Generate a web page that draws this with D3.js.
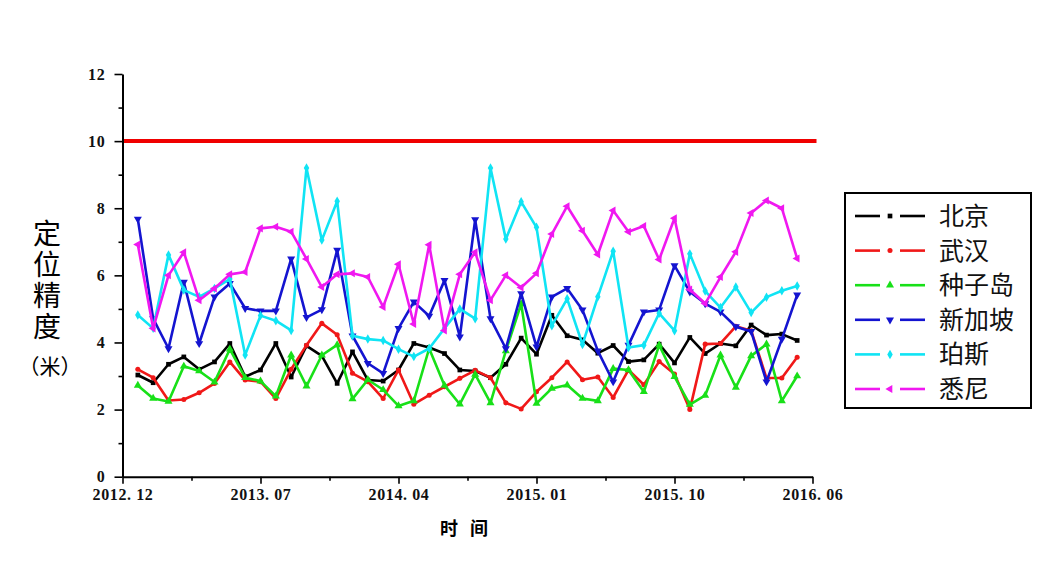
<!DOCTYPE html>
<html>
<head>
<meta charset="utf-8">
<script src="https://cdn.jsdelivr.net/npm/d3@7"></script>
<style>
  html, body { margin: 0; padding: 0; background: #fff; }
  svg { display: block; }
</style>
</head>
<body>
<svg id="chart" width="1040" height="569"></svg>
<script>
// Monthly positioning accuracy (metres) for six stations
const stations = ["北京", "武汉", "种子岛", "新加坡", "珀斯", "悉尼"];
const xTickLabels = ["2012. 12", "2013. 07", "2014. 04", "2015. 01", "2015. 10", "2016. 06"];
const yTicks = [0, 2, 4, 6, 8, 10, 12];
const threshold = 10;

const beijing = [3.03, 2.8, 3.35, 3.57, 3.2, 3.42, 3.97, 2.98, 3.18, 3.97, 2.97, 3.9, 3.6, 2.78, 3.72,
  2.88, 2.85, 3.18, 3.97, 3.85, 3.67, 3.18, 3.15, 2.95, 3.35, 4.13, 3.65, 4.81, 4.2, 4.08,
  3.68, 3.91, 3.43, 3.48, 3.95, 3.39, 4.15, 3.67, 3.97, 3.9, 4.52, 4.22, 4.25, 4.06];
const wuhan = [3.2, 2.95, 2.27, 2.3, 2.5, 2.78, 3.42, 2.88, 2.83, 2.33, 3.2, 3.92, 4.57, 4.23, 3.08,
  2.83, 2.33, 3.18, 2.16, 2.43, 2.68, 2.93, 3.17, 2.95, 2.2, 2.02, 2.53, 2.95, 3.42, 2.89,
  2.97, 2.36, 3.18, 2.74, 3.43, 3.06, 2.0, 3.95, 3.97, 4.48, 4.35, 2.94, 2.94, 3.56];
const tanegashima = [2.72, 2.33, 2.24, 3.29, 3.15, 2.82, 3.8, 2.95, 2.85, 2.4, 3.62, 2.7, 3.62, 3.93, 2.32,
  2.89, 2.59, 2.11, 2.26, 3.82, 2.72, 2.16, 3.05, 2.2, 3.75, 5.15, 2.18, 2.63, 2.73, 2.33,
  2.26, 3.22, 3.18, 2.53, 3.92, 2.98, 2.15, 2.42, 3.62, 2.66, 3.6, 3.95, 2.26, 3.0];
const singapore = [7.68, 4.71, 3.82, 5.8, 3.97, 5.36, 5.76, 5.02, 4.94, 4.94, 6.49, 4.75, 4.98, 6.75, 4.2,
  3.38, 3.08, 4.42, 5.21, 4.79, 5.85, 4.17, 7.66, 4.71, 3.82, 5.46, 3.87, 5.36, 5.61, 4.97,
  3.75, 2.83, 3.92, 4.91, 4.97, 6.29, 5.51, 5.16, 4.91, 4.47, 4.33, 2.83, 4.1, 5.42];
const perth = [4.82, 4.42, 6.61, 5.56, 5.36, 5.61, 5.89, 3.63, 4.8, 4.65, 4.36, 9.2, 7.05, 8.21, 4.2,
  4.1, 4.06, 3.8, 3.58, 3.82, 4.42, 5.0, 4.71, 9.2, 7.08, 8.19, 7.43, 4.5, 5.3, 3.94,
  5.36, 6.72, 3.85, 3.92, 4.87, 4.35, 6.64, 5.53, 5.04, 5.65, 4.89, 5.35, 5.54, 5.68];
const sydney = [6.92, 4.42, 6.0, 6.69, 5.26, 5.61, 6.03, 6.1, 7.4, 7.45, 7.3, 6.49, 5.65, 6.03, 6.06,
  5.95, 5.06, 6.33, 4.55, 6.91, 4.36, 6.03, 6.69, 5.26, 6.0, 5.64, 6.06, 7.23, 8.06, 7.33,
  6.62, 7.93, 7.3, 7.47, 6.47, 7.7, 5.58, 5.16, 5.95, 6.7, 7.86, 8.23, 8.0, 6.5];

const seriesValues = [beijing, wuhan, tanegashima, singapore, perth, sydney];
const colors = ["#000000", "#f01818", "#18e018", "#1414d0", "#10e4f4", "#f018f0"];
const markerKinds = ["square", "circle", "up", "down", "diamond", "left"];

const svg = d3.select("#chart");

const x = d3.scaleLinear().domain([0, 45]).range([122.5, 812.5]);
const y = d3.scaleLinear().domain([0, 12]).range([476.7, 74]);

const serif = "'Liberation Serif', 'DejaVu Serif', serif";
const cjk = "'Noto Sans CJK SC', sans-serif";

// Threshold line at 10 m
svg.append("line")
  .attr("x1", x(0)).attr("x2", x(45) + 4)
  .attr("y1", y(threshold)).attr("y2", y(threshold))
  .attr("stroke", "#f00000").attr("stroke-width", 4);

// Y axis: major ticks with labels, minor ticks between
const yAxisG = svg.append("g").attr("class", "yaxis").attr("transform", `translate(${x(0)},0)`)
  .call(d3.axisLeft(y).tickValues(yTicks).tickSize(8).tickSizeOuter(0).tickPadding(9).tickFormat(d3.format("d")));
svg.append("g").attr("transform", `translate(${x(0)},0)`)
  .call(d3.axisLeft(y).tickValues(d3.range(1, 12, 2)).tickSize(4).tickSizeOuter(0).tickFormat(""))
  .select(".domain").remove();

// X axis: labelled ticks every 9 steps, minor ticks halfway
const xMajor = d3.range(0, 46, 9);
const xAxisG = svg.append("g").attr("class", "xaxis").attr("transform", `translate(0,${y(0)})`)
  .call(d3.axisBottom(x).tickValues(xMajor).tickSize(7).tickSizeOuter(0).tickPadding(5)
    .tickFormat((d, i) => xTickLabels[i]));
svg.append("g").attr("transform", `translate(0,${y(0)})`)
  .call(d3.axisBottom(x).tickValues(xMajor.slice(0, -1).map(v => v + 4.5)).tickSize(4).tickSizeOuter(0).tickFormat(""))
  .select(".domain").remove();

svg.selectAll(".domain").attr("stroke", "#000").attr("stroke-width", 2);
svg.selectAll(".tick line").attr("stroke", "#000").attr("stroke-width", 1.6);
svg.selectAll(".tick text")
  .attr("fill", "#111")
  .style("font-family", serif)
  .style("font-weight", "bold")
  .style("font-size", "16px");
xAxisG.selectAll(".tick text").style("letter-spacing", "0.6px");
yAxisG.selectAll(".tick text").style("letter-spacing", "0.8px");

// Axis titles
svg.append("text")
  .attr("x", 466).attr("y", 535)
  .attr("text-anchor", "middle")
  .style("font-family", cjk).style("font-weight", "bold").style("font-size", "18px")
  .style("letter-spacing", "4px")
  .text("时 间");

// Vertical y-axis title, characters stacked top to bottom
svg.append("text")
  .attr("x", 47).attr("y", 219)
  .style("writing-mode", "vertical-rl")
  .style("text-orientation", "upright")
  .style("letter-spacing", "3px")
  .style("font-family", cjk).style("font-size", "28px")
  .text("定位精度");
svg.append("text")
  .attr("x", 50).attr("y", 374)
  .attr("text-anchor", "middle")
  .style("font-family", cjk).style("font-size", "21px")
  .text("（米）");

// Marker shapes
function markerPath(kind) {
  if (kind === "square") return d3.symbol(d3.symbolSquare, 22)();
  if (kind === "circle") return d3.symbol(d3.symbolCircle, 20)();
  if (kind === "diamond") return d3.symbol(d3.symbolDiamond, 26)();
  return d3.symbol(d3.symbolTriangle, 28)();
}
function markerRotate(kind) {
  if (kind === "down") return 180;
  if (kind === "left") return -90;
  return 0;
}

const line = d3.line().x((d, i) => x(i + 1)).y(d => y(d));

seriesValues.forEach((vals, s) => {
  const g = svg.append("g");
  g.append("path")
    .datum(vals)
    .attr("d", line)
    .attr("fill", "none")
    .attr("stroke", colors[s])
    .attr("stroke-width", 2.6)
    .attr("stroke-linejoin", "round");
  g.selectAll("path.mk").data(vals).enter().append("path")
    .attr("class", "mk")
    .attr("d", markerPath(markerKinds[s]))
    .attr("transform", (d, i) => `translate(${x(i + 1)},${y(d)}) rotate(${markerRotate(markerKinds[s])})`)
    .attr("fill", colors[s]);
});

// Legend
const legend = svg.append("g");
legend.append("rect")
  .attr("x", 845).attr("y", 193).attr("width", 186).attr("height", 215)
  .attr("fill", "#fff").attr("stroke", "#000").attr("stroke-width", 2);
const rowY = d3.scalePoint().domain(stations).range([216, 389]);
stations.forEach((name, s) => {
  const yy = rowY(name);
  legend.append("line").attr("x1", 855).attr("x2", 880).attr("y1", yy).attr("y2", yy)
    .attr("stroke", colors[s]).attr("stroke-width", 2.6);
  legend.append("line").attr("x1", 900).attr("x2", 925).attr("y1", yy).attr("y2", yy)
    .attr("stroke", colors[s]).attr("stroke-width", 2.6);
  legend.append("path")
    .attr("d", markerPath(markerKinds[s]))
    .attr("transform", `translate(890,${yy}) rotate(${markerRotate(markerKinds[s])})`)
    .attr("fill", colors[s]);
  legend.append("text")
    .attr("x", 939).attr("y", yy + 9)
    .style("font-family", cjk).style("font-size", "25px")
    .attr("fill", "#111")
    .text(name);
});
</script>
</body>
</html>
